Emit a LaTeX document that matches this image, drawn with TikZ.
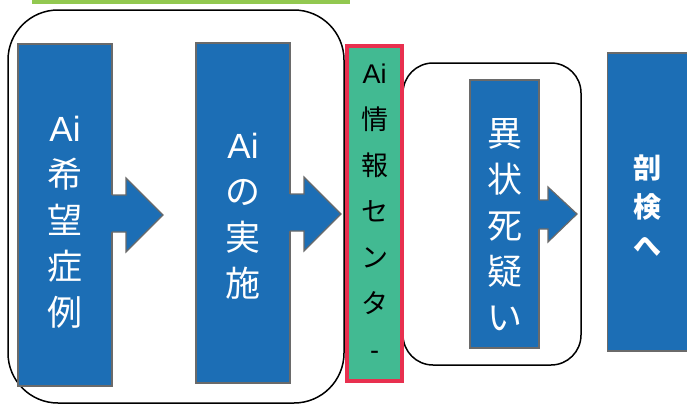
\documentclass[tikz,border=0pt]{standalone}
\usepackage{fontspec}
\newfontfamily\cjk{Noto Sans CJK JP}
\newfontfamily\lat{Liberation Sans}
\definecolor{boxblue}{HTML}{1C6EB5}
\definecolor{boxgray}{HTML}{6A6A6A}
\definecolor{infogreen}{HTML}{42BA92}
\definecolor{infored}{HTML}{E8304F}
\definecolor{bargreen}{HTML}{92C850}
\tikzset{
  bluebox/.style={draw=boxgray, line width=1.3pt, fill=boxblue, inner sep=0pt},
  group/.style={draw=black, line width=1.5pt},
  bluetext/.style={text=white, align=center, inner sep=0pt, font=\cjk\fontsize{35}{46}\selectfont},
  arrowfill/.style={fill=boxblue},
  arrowline/.style={draw=boxgray, line width=1.2pt, line join=miter},
}
\begin{document}
\begin{tikzpicture}[x=1pt,y=-1pt]
\useasboundingbox (0,0) rectangle (687,405);
\fill[bargreen] (32,0) rectangle (350,4);
% group frames
\draw[group, rounded corners=50pt] (8,10) rectangle (344,403);
\draw[group, rounded corners=30pt] (403,63) rectangle (581,365);
% boxes
\node[bluebox, minimum width=94pt, minimum height=342pt] (b1) at (65,215) {};
\node[bluebox, minimum width=94pt, minimum height=340pt] (b2) at (243,213) {};
\node[bluebox, minimum width=69pt, minimum height=268pt] (b3) at (504.5,214) {};
\node[bluebox, minimum width=81pt, minimum height=298pt] (b4) at (648,202) {};
% arrows
\fill[arrowfill] (110,195) -- (126,195) -- (126,178) -- (163,215) -- (126,252) -- (126,232) -- (110,232) -- cycle;
\draw[arrowline] (112,195) -- (126,195) -- (126,178) -- (163,215) -- (126,252) -- (126,232) -- (112,232);
\fill[arrowfill] (288,194) -- (304,194) -- (304,177) -- (341,214) -- (304,251) -- (304,231) -- (288,231) -- cycle;
\draw[arrowline] (290,194) -- (304,194) -- (304,177) -- (341,214) -- (304,251) -- (304,231) -- (290,231);
\fill[arrowfill] (537,200) -- (548,200) -- (548,187) -- (577,214) -- (548,242) -- (548,229) -- (537,229) -- cycle;
\draw[arrowline] (539,200) -- (548,200) -- (548,187) -- (577,214) -- (548,242) -- (548,229) -- (539,229);
% info center
\node[draw=infored, line width=4pt, fill=infogreen, minimum width=55pt, minimum height=335pt, inner sep=0pt] (g) at (374.5,213.5) {};
% texts
\node[bluetext] (t1) at (65,222) {{\lat Ai}\\希\\望\\症\\例};
\node[bluetext] (t2) at (243,216) {{\lat Ai}\\の\\実\\施};
\node[bluetext] (t3) at (504.5,225) {異\\状\\死\\疑\\い};
\node[text=black, align=center, inner sep=0pt, font=\cjk\fontsize{27}{46}\selectfont] (tg) at (374.5,212) {{\lat Ai}\\情\\報\\セ\\ン\\タ\\{\lat -}};
\node[text=white, align=center, inner sep=0pt, font=\cjk\bfseries\fontsize{28}{39}\selectfont] (t4) at (647,206) {剖\\検\\へ};
\end{tikzpicture}
\end{document}
